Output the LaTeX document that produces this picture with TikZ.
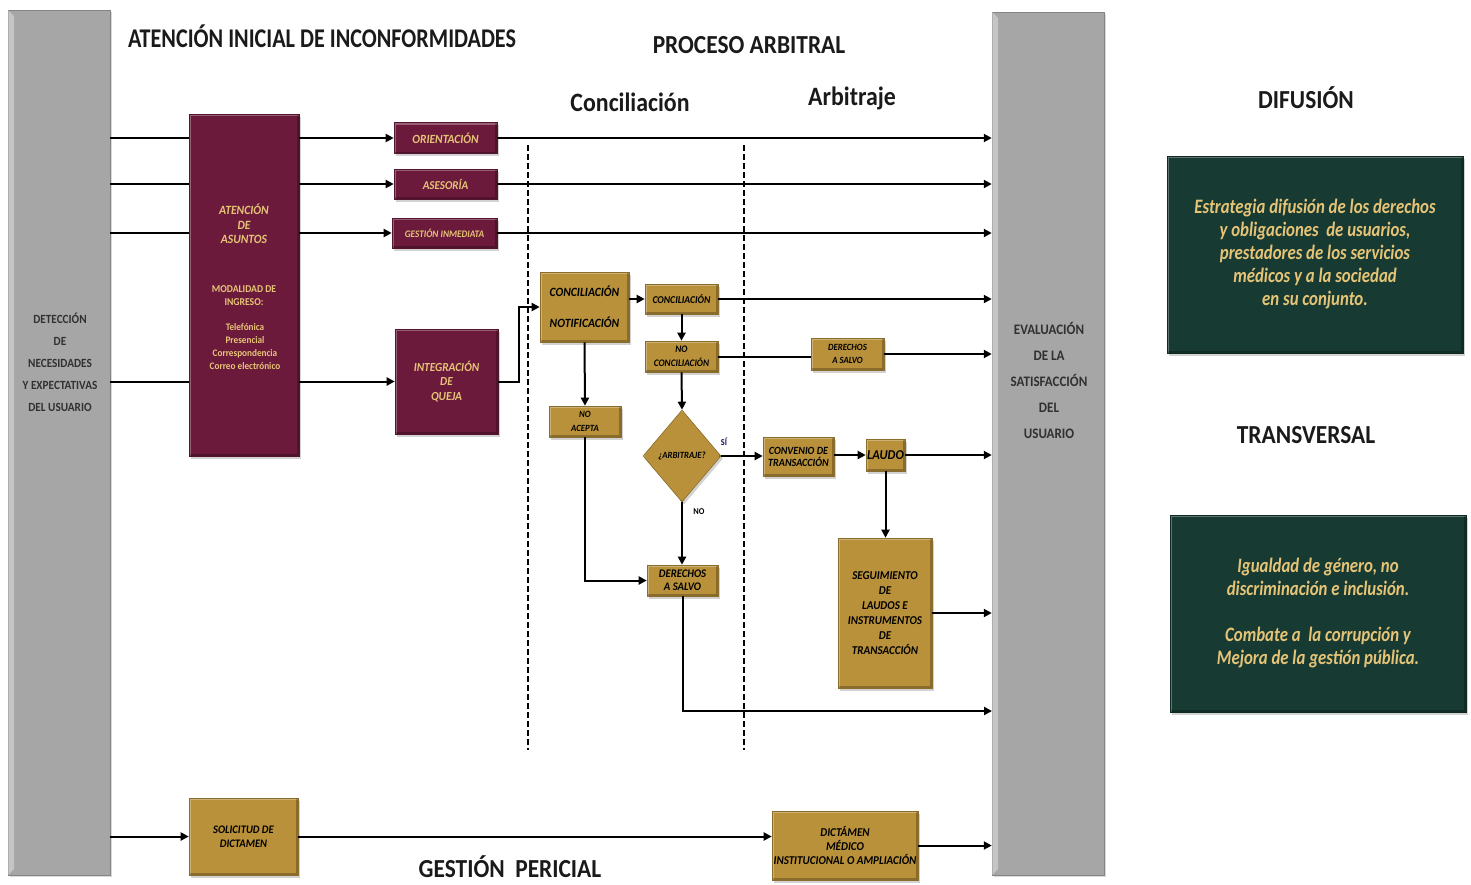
\documentclass[tikz,border=0pt]{standalone}
\usepackage{fontspec}
\setmainfont{Carlito}
\newfontfamily\cond[FakeStretch=0.82]{Carlito}
\newfontfamily\condi[FakeStretch=0.92]{Carlito}
\newfontfamily\condh[FakeStretch=0.9]{Carlito}
\usetikzlibrary{shapes.geometric,shadows,arrows.meta}
\definecolor{maroonc}{HTML}{6C1A3B}
\definecolor{goldc}{HTML}{B8913A}
\definecolor{goldtxt}{HTML}{E6C477}
\definecolor{greenc}{HTML}{173A32}
\definecolor{barc}{HTML}{A6A6A6}
\definecolor{hdr}{HTML}{1A1A1A}
\tikzset{
  fsz/.style={font=\condi\bfseries\itshape\fontsize{#1}{#1}\selectfont},
  bevel/.style={path picture={
      \draw[white, opacity=0.3, line width=4pt] (path picture bounding box.south west) -- (path picture bounding box.north west) -- (path picture bounding box.north east);
      \draw[black, opacity=0.25, line width=4pt] (path picture bounding box.north east) -- (path picture bounding box.south east) -- (path picture bounding box.south west);}},
  boxbase/.style={inner sep=1pt, align=center, bevel, drop shadow={shadow xshift=2pt, shadow yshift=-2.5pt, opacity=0.35}},
  maroonbox/.style={boxbase, fill=maroonc, draw=maroonc!80!black, line width=0.6pt, text=goldtxt},
  goldbox/.style={boxbase, fill=goldc, draw=goldc!75!black, line width=0.6pt, text=black},
  greenbox/.style={boxbase, fill=greenc, draw=greenc!70!black, line width=0.6pt, text=goldtxt},
  barbox/.style={fill=barc, draw=barc!80!black, line width=0.5pt, drop shadow={shadow xshift=2pt, shadow yshift=-2pt, opacity=0.3}},
  bartext/.style={font=\condh\bfseries\fontsize{12.5}{22}\selectfont, text=hdr!90, align=center},
  header/.style={font=\condh\bfseries\fontsize{26}{30}\selectfont, text=hdr},
  conn/.style={line width=2pt, black},
  arr/.style={conn, -{Triangle[length=8pt,width=8pt]}},
  divider/.style={line width=2pt, black, dash pattern=on 6pt off 3pt},
  lbl/.style={font=\condi\bfseries\fontsize{9}{10}\selectfont}
}
\begin{document}
\begin{tikzpicture}[x=1pt,y=-1pt]
\useasboundingbox (0,0) rectangle (1471,884);
\fill[white] (0,0) rectangle (1471,884);

% gray bars
\node[barbox, minimum width=102pt, minimum height=865pt, inner sep=0] (lbar) at (59,442.5) {};
\fill[white, opacity=0.35] (8,10) -- (14,16) -- (14,869) -- (8,875) -- cycle;
\node[barbox, minimum width=112pt, minimum height=863pt, inner sep=0] (rbar) at (1048,443.5) {};
\fill[white, opacity=0.35] (992,12) -- (998,18) -- (998,869) -- (992,875) -- cycle;
\node[bartext] at (60,362) {DETECCIÓN\\DE\\NECESIDADES\\Y EXPECTATIVAS\\DEL USUARIO};
\node[bartext, font=\condh\bfseries\fontsize{14.5}{26}\selectfont] at (1049,380) {EVALUACIÓN\\DE LA\\SATISFACCIÓN\\DEL\\USUARIO};

% headers
\node[header, font=\cond\bfseries\fontsize{27}{30}\selectfont] at (322,36) {ATENCIÓN INICIAL DE INCONFORMIDADES};
\node[header] at (749,45) {PROCESO ARBITRAL};
\node[header, font=\condh\bfseries\fontsize{26.5}{30}\selectfont] at (630,102) {Conciliación};
\node[header, font=\condh\bfseries\fontsize{26.5}{30}\selectfont] at (852,98) {Arbitraje};
\node[header] at (1306,98) {DIFUSIÓN};
\node[header] at (1306,435) {TRANSVERSAL};
\node[header, anchor=base, inner sep=0pt] at (510,877) {GESTIÓN\ \ PERICIAL};

% dashed dividers
\draw[divider] (528,145) -- (528,750);
\draw[divider] (744,145) -- (744,750);

% maroon boxes
\node[maroonbox, minimum width=110pt, minimum height=342pt] (atn) at (244,285) {};
\node[fsz=12.6, text=goldtxt, align=center] at (244,224) {ATENCIÓN\\[2pt]DE\\[2pt]ASUNTOS};
\node[font=\condi\bfseries\fontsize{10.5}{13}\selectfont, text=goldtxt, align=center] at (244,295.5) {MODALIDAD DE\\INGRESO:};
\node[font=\condi\bfseries\fontsize{10}{13}\selectfont, text=goldtxt, align=center] at (245,346.5) {Telefónica\\Presencial\\Correspondencia\\Correo electrónico};

\node[maroonbox, fsz=12.5, minimum width=103pt, minimum height=31pt] (orient) at (445.5,138) {ORIENTACIÓN};
\node[maroonbox, fsz=12, minimum width=103pt, minimum height=30pt] (ases) at (445.5,184) {ASESORÍA};
\node[maroonbox, fsz=10, minimum width=105pt, minimum height=30pt] (gest) at (444.5,233) {GESTIÓN INMEDIATA};
\node[maroonbox, fsz=12.3, minimum width=103pt, minimum height=105pt] (queja) at (446.5,381.5) {INTEGRACIÓN\\[2pt]DE\\[2pt]QUEJA};

% gold boxes
\node[goldbox, fsz=12.6, minimum width=89pt, minimum height=70pt] (cn) at (584.5,307) {CONCILIACIÓN\\[18pt]NOTIFICACIÓN};
\node[goldbox, fsz=10.5, minimum width=73pt, minimum height=30pt] (conc) at (681.5,299) {CONCILIACIÓN};
\node[goldbox, fsz=10, minimum width=73pt, minimum height=31pt] (noconc) at (681.5,356.5) {NO\\[4pt]CONCILIACIÓN};
\node[goldbox, fsz=9.5, minimum width=73pt, minimum height=32pt] (ds1) at (847.5,354) {DERECHOS\\[3.5pt]A SALVO};
\node[goldbox, fsz=9.5, shape=diamond, minimum width=78pt, minimum height=92pt, inner sep=0pt] (arb) at (682,456) {¿ARBITRAJE?};
\node[goldbox, fsz=11, minimum width=71pt, minimum height=39pt, inner sep=0pt] (conv) at (798.5,456.5) {CONVENIO DE\\[1pt]TRANSACCIÓN};
\node[goldbox, fsz=13.5, minimum width=39pt, minimum height=32pt, inner sep=0pt] (laudo) at (885.5,455) {LAUDO};
\node[goldbox, fsz=12, minimum width=94pt, minimum height=150pt] (seg) at (885,613) {SEGUIMIENTO\\[3pt]DE\\[3pt]LAUDOS E\\[3pt]INSTRUMENTOS\\[3pt]DE\\[3pt]TRANSACCIÓN};
\node[goldbox, fsz=9.5, minimum width=72pt, minimum height=31pt] (noacepta) at (585,421.5) {NO\\[4.5pt]ACEPTA};
\node[goldbox, fsz=11.6, minimum width=71pt, minimum height=31pt] (ds2) at (682.5,580.5) {DERECHOS\\[1.5pt]A SALVO};
\node[goldbox, fsz=11.5, minimum width=109pt, minimum height=77pt] (sol) at (243.5,836.5) {SOLICITUD DE\\[2.5pt]DICTAMEN};
\node[goldbox, fsz=12, minimum width=146pt, minimum height=69pt, inner sep=0pt] (dict) at (845,845.5) {DICTÁMEN\\[2pt]MÉDICO\\[2pt]INSTITUCIONAL O AMPLIACIÓN};

% green boxes
\node[greenbox, font=\cond\bfseries\itshape\fontsize{20.5}{23}\selectfont, minimum width=296pt, minimum height=197pt] (g1) at (1315,254.5) {Estrategia difusión de los derechos\\y obligaciones\ \ de usuarios,\\prestadores de los servicios\\médicos y a la sociedad\\en su conjunto.};
\node[greenbox, font=\cond\bfseries\itshape\fontsize{20.5}{23}\selectfont, minimum width=296pt, minimum height=197pt] (g2) at (1318,613.5) {Igualdad de género, no\\discriminación e inclusión.\\[23pt]Combate a\ \ la corrupción y\\Mejora de la gestión pública.};

% connectors: atención inicial
\draw[conn] (lbar.east |- orient.west) -- (atn.west |- orient.west);
\draw[arr] (atn.east |- orient.west) -- (orient.west);
\draw[conn] (lbar.east |- ases.west) -- (atn.west |- ases.west);
\draw[arr] (atn.east |- ases.west) -- (ases.west);
\draw[conn] (lbar.east |- gest.west) -- (atn.west |- gest.west);
\draw[arr] (atn.east |- gest.west) -- (gest.west);
\draw[conn] (lbar.east |- queja.west) -- (atn.west |- queja.west);
\draw[arr] (atn.east |- queja.west) -- (queja.west);
\draw[arr] (orient.east) -- (orient.east -| rbar.west);
\draw[arr] (ases.east) -- (ases.east -| rbar.west);
\draw[arr] (gest.east) -- (gest.east -| rbar.west);

% proceso arbitral
\draw[arr] (queja.east) -- ([xshift=21pt]queja.east) |- (cn.west);
\draw[arr] (cn.east |- conc.west) -- (conc.west);
\draw[arr] (conc.east) -- (conc.east -| rbar.west);
\draw[arr] (conc.south) -- (noconc.north);
\draw[conn] (noconc.east) -- (noconc.east -| ds1.west);
\draw[arr] (ds1.east) -- (ds1.east -| rbar.west);
\draw[arr] (noconc.south) -- (arb.north);
\draw[arr] (arb.east) -- (arb.east -| conv.west);
\draw[arr] (conv.east |- laudo.west) -- (laudo.west);
\draw[arr] (laudo.east) -- (laudo.east -| rbar.west);
\draw[arr] (laudo.south) -- (laudo.south |- seg.north);
\draw[arr] (seg.east) -- (seg.east -| rbar.west);
\draw[arr] (arb.south) -- (arb.south |- ds2.north);
\draw[arr] (cn.south) -- (noacepta.north);
\draw[arr] (noacepta.south) |- (ds2.west);
\coordinate (dsend) at (992,711);
\draw[arr] (ds2.south) |- (dsend);
\node[lbl, text=hdr!70!blue] at (724,442) {SÍ};
\node[lbl] at (699,512) {NO};

% gestión pericial
\draw[arr] (lbar.east |- sol.west) -- (sol.west);
\draw[arr] (sol.east) -- (sol.east -| dict.west);
\draw[arr] (dict.east) -- (dict.east -| rbar.west);
\end{tikzpicture}
\end{document}
